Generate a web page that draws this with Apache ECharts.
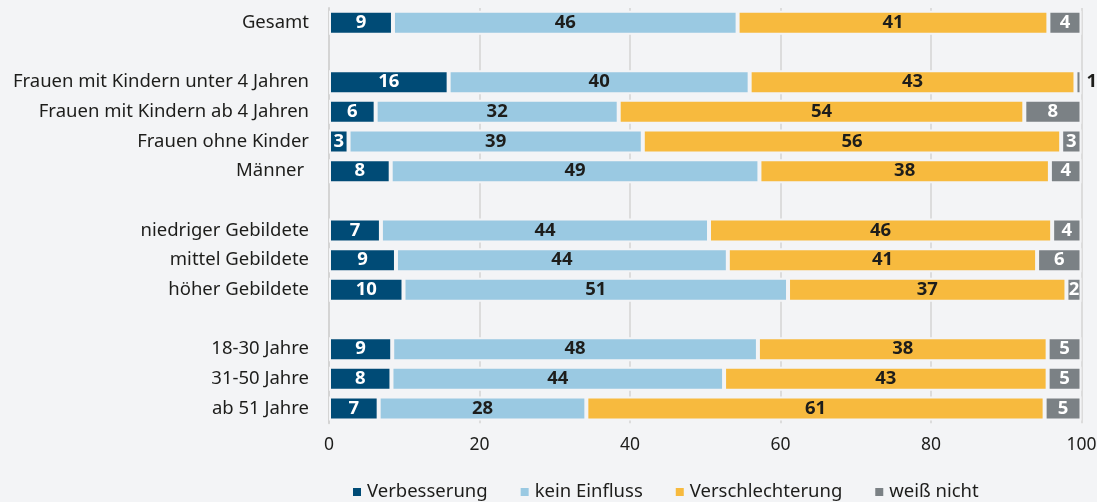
<!DOCTYPE html>
<html>
<head>
<meta charset="utf-8">
<script src="https://cdn.jsdelivr.net/npm/echarts@6/dist/echarts.min.js"></script>
<style>
  html, body { margin: 0; padding: 0; background: #f3f4f6; }
  #chart { width: 1097px; height: 502px; }
</style>
</head>
<body>
<div id="chart"></div>
<script>
// Categories (blank entries are spacer rows)
const categories = ['Gesamt', ' ', 'Frauen mit Kindern unter 4 Jahren', 'Frauen mit Kindern ab 4 Jahren',
  'Frauen ohne Kinder', 'Männer ', '  ', 'niedriger Gebildete', 'mittel Gebildete', 'höher Gebildete',
  '   ', '18-30 Jahre', '31-50 Jahre', 'ab 51 Jahre'];

const seriesNames = ['Verbesserung', 'kein Einfluss', 'Verschlechterung', 'weiß nicht'];

// Bar lengths (percent)
const verbesserung     = [8.5, null, 15.9, 6.2, 2.6, 8.2, null, 6.9, 8.9, 9.9, null, 8.4, 8.3, 6.6];
const keinEinfluss     = [45.8, null, 40.0, 32.3, 39.1, 49.0, null, 43.6, 44.1, 51.1, null, 48.6, 44.2, 27.6];
const verschlechterung = [41.3, null, 43.3, 53.9, 55.6, 38.6, null, 45.6, 41.1, 37.0, null, 38.5, 43.0, 60.9];
const weissNicht       = [4.4, null, 0.8, 7.6, 2.7, 4.2, null, 3.9, 5.9, 2.0, null, 4.5, 4.5, 4.9];

// Printed labels
const labelsVerbesserung     = [9, '', 16, 6, 3, 8, '', 7, 9, 10, '', 9, 8, 7];
const labelsKeinEinfluss     = [46, '', 40, 32, 39, 49, '', 44, 44, 51, '', 48, 44, 28];
const labelsVerschlechterung = [41, '', 43, 54, 56, 38, '', 46, 41, 37, '', 38, 43, 61];
const labelsWeissNicht       = [4, '', 1, 8, 3, 4, '', 4, 6, 2, '', 5, 5, 5];

// x-axis ticks
const xTicks = [0, 20, 40, 60, 80, 100];

const colors = ['#004b76', '#9ac9e2', '#f7ba3e', '#7b8185'];
const labelColors = ['#ffffff', '#1d1d1b', '#1d1d1b', '#ffffff'];
const valueSets = [verbesserung, keinEinfluss, verschlechterung, weissNicht];
const labelSets = [labelsVerbesserung, labelsKeinEinfluss, labelsVerschlechterung, labelsWeissNicht];

const FONT = 'Noto Sans';
const BG = '#f3f4f6';
const TXT = '#1d1d1b';

const series = seriesNames.map((name, s) => ({
  name: name,
  type: 'bar',
  stack: 'total',
  barWidth: 24,
  itemStyle: { color: colors[s], borderColor: BG, borderWidth: 2 },
  label: {
    show: true,
    position: 'inside',
    color: labelColors[s],
    fontFamily: FONT,
    fontWeight: 'bold',
    fontSize: 18.5,
    formatter: p => String(labelSets[s][p.dataIndex])
  },
  emphasis: { disabled: true },
  data: valueSets[s].map((v, i) => {
    if (v !== null && v < 1.5) {
      return { value: v, label: { position: 'right', distance: 5, color: TXT } };
    }
    return v === null ? '-' : v;
  })
}));

const chart = echarts.init(document.getElementById('chart'), null, { renderer: 'canvas' });
chart.setOption({
  backgroundColor: BG,
  animation: false,
  textStyle: { fontFamily: FONT },
  grid: { left: 329, right: 15.5, top: 8, bottom: 78.7, containLabel: false, outerBoundsMode: 'none' },
  legend: {
    data: seriesNames,
    left: 351,
    top: 482.5,
    padding: 0,
    itemWidth: 10,
    itemHeight: 10,
    itemGap: 31,
    icon: 'rect',
    textStyle: { fontFamily: FONT, fontSize: 18.5, color: TXT }
  },
  xAxis: {
    type: 'value',
    min: xTicks[0],
    max: xTicks[xTicks.length - 1],
    interval: xTicks[1] - xTicks[0],
    axisLine: { show: false },
    axisTick: { show: false },
    splitLine: { show: true, lineStyle: { color: '#dcdcdc', width: 2 } },
    axisLabel: { fontFamily: FONT, fontSize: 17.5, color: TXT, margin: 13 }
  },
  yAxis: {
    type: 'category',
    inverse: true,
    data: categories,
    axisLine: { show: true, lineStyle: { color: '#d4d4d4', width: 2 } },
    axisTick: { show: false },
    axisLabel: { fontFamily: FONT, fontSize: 18.5, color: TXT, margin: 20 }
  },
  series: series
});
</script>
</body>
</html>
